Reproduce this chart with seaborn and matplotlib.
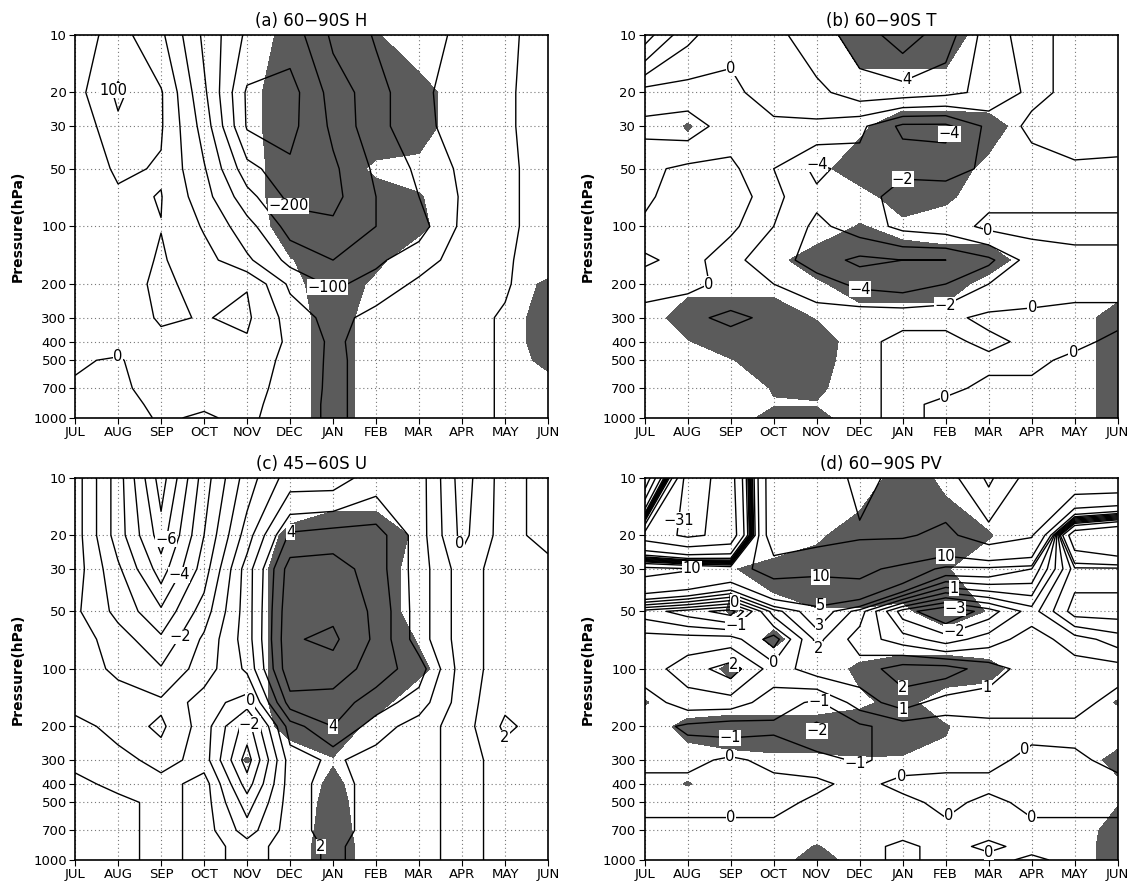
import numpy as np
import matplotlib
matplotlib.use("Agg")
import matplotlib.pyplot as plt
import seaborn as sns

sns.set_theme(style="white")
plt.rcParams["font.family"] = ["DejaVu Sans"]
plt.rcParams["contour.negative_linestyle"] = "solid"
for key in ["text.color", "axes.labelcolor", "xtick.color", "ytick.color"]:
    plt.rcParams[key] = "black"

months = ["JUL", "AUG", "SEP", "OCT", "NOV", "DEC", "JAN", "FEB", "MAR", "APR", "MAY", "JUN"]
pressure = [10, 20, 30, 50, 70, 100, 150, 200, 300, 400, 500, 700, 850, 1000]
yticks = [10, 20, 30, 50, 100, 200, 300, 400, 500, 700, 1000]

# (a) 60-90S geopotential height anomaly, rows 10 hPa -> 1000 hPa
h_anom = [
    [25, 70, 10, -110, -210, -230, -140, -95, -70, -40, -10, 20],
    [30, 110, 55, -90, -258, -270, -180, -120, -60, -30, -5, 15],
    [10, 90, 55, -70, -255, -265, -190, -115, -70, -20, -5, 15],
    [5, 60, 45, -45, -180, -240, -210, -140, -90, -40, -5, 10],
    [5, 40, 52, -30, -130, -215, -215, -150, -100, -45, -5, 10],
    [5, 30, 49, -5, -80, -170, -190, -150, -120, -40, -5, 10],
    [10, 25, 55, 20, -40, -115, -150, -110, -70, -30, -5, 20],
    [15, 25, 62, 30, 48, -60, -110, -80, -40, -20, -5, 30],
    [15, 25, 55, 48, 58, -20, -70, -30, -20, -15, 5, 40],
    [10, 20, 40, 25, 45, -10, -60, -25, -20, -15, 5, 40],
    [5, -5, 30, 20, 30, -15, -60, -30, -20, -15, 5, 35],
    [-5, -10, 20, 10, 20, -20, -60, -30, -20, -15, 5, 30],
    [-15, -15, 10, 5, 15, -25, -60, -30, -20, -15, 5, 25],
    [-20, -20, 5, -5, 10, -25, -60, -30, -20, -15, 5, 20],
]
h_sig = [
    "000007950000",
    "000029998000",
    "000029998000",
    "000019932000",
    "000019985000",
    "000008996000",
    "000004960000",
    "000002930006",
    "000000900009",
    "000000900009",
    "000000900007",
    "000000900000",
    "000000900000",
    "000000900000",
]
h_levels = [-300, -250, -200, -150, -100, -50, 0, 50, 100]
h_labels = [(1.0, 20), (4.9, 80), (6.0, 195), (1.0, 480)]

# (b) 60-90S temperature anomaly
t_anom = [
    [7, 2.5, 0.5, 1.5, 3, 5, 7, 5, 1, -1, 1, 1],
    [-1, -1, -0.5, 1, 1.5, 3, 3, 2.5, 1.5, -0.5, 0.5, 0.5],
    [-2.5, -3, -1, -0.5, -0.5, -1.5, -4.5, -4.5, -1.5, 0.5, 1.5, 1],
    [-0.5, 0.5, 0.5, -2, -4.5, -3, -2.5, -3, -1.5, -1, -0.5, -0.5],
    [-0.5, 1.5, 1.5, -1.5, -3.5, -3, -1, -0.5, -0.5, -0.5, -0.5, -0.5],
    [0.5, 1.5, 0.5, -2, -4.5, -3, -1.5, -1, 0.5, 0.5, 0.5, 0.5],
    [2.5, 1, -1.5, -3, -5, -6.5, -6, -6, -4.5, -1, -0.5, -0.5],
    [0.5, 0.5, -0.5, -2, -3, -4.5, -5, -4, -2, -1, -0.5, -0.5],
    [-0.5, -1.5, -2.5, -1.5, -1, -0.5, -0.5, -0.5, 0.5, 0.5, 0.5, 0.5],
    [-0.5, -1, -1, -1, -0.5, -0.5, 0.5, 0.5, -0.5, 0.5, 0.5, -0.5],
    [-0.5, -0.5, -1, -1, -1, -0.5, 0.5, 0.5, 0.5, 0.5, -0.5, -0.5],
    [-0.5, -0.5, -1, -1, -1, -0.5, 0.5, 0.5, -0.5, -0.5, -0.5, -0.5],
    [-0.5, -0.5, -0.5, -0.5, -0.5, -0.5, 0.5, -0.5, -0.5, -0.5, -0.5, -0.5],
    [-0.5, -0.5, -0.5, -0.5, -0.5, -0.5, 0.5, -0.5, -0.5, -0.5, -0.5, -0.5],
]
t_sig = [
    "000009990000",
    "000000000000",
    "050003998000",
    "000029992000",
    "000001960000",
    "000005200000",
    "000299999000",
    "022239991000",
    "099940000009",
    "049990000009",
    "004980000009",
    "000560000009",
    "000440000009",
    "001770000009",
]
t_levels = [-8, -6, -4, -2, 0, 2, 4, 6, 8]
t_labels = [(2.0, 15), (6.0, 15), (7.1, 33), (4.0, 45), (6.0, 55), (8.0, 100),
            (2.0, 200), (5.0, 230), (7.0, 300), (9.0, 250), (10.0, 470), (7.0, 800)]

# (c) 45-60S zonal wind anomaly
u_anom = [
    [-0.5, -3.5, -7.5, -3.5, -0.5, 1.5, 1.5, 2.5, 2.5, -0.5, 1.5, 2.5],
    [-0.5, -3.5, -6.5, -3, 0.5, 4.2, 4.5, 4.5, 2.5, -0.3, 1.5, 2.5],
    [-0.5, -2.8, -5.5, -2.5, 1.5, 5.5, 5.5, 4.5, 2.5, 0.5, 1.5, 1.5],
    [-0.8, -2.3, -3.8, -1.5, 1.5, 5.8, 5.8, 4.8, 2.5, 0.5, 1.5, 1.5],
    [-0.5, -1.5, -2.8, -0.8, 1.5, 5.9, 6.2, 4.8, 2.5, 0.5, 1.5, 1.5],
    [-0.5, -1.2, -1.9, -0.5, 1.2, 5.8, 5.6, 4.5, 3.5, 0.5, 1.5, 1.5],
    [-0.5, -0.5, -0.8, 0.5, -0.5, 4.5, 4.5, 3.5, 2.5, 0.5, 1.8, 1.5],
    [0.5, -0.5, -1.2, 0.5, -2.5, 2.5, 4, 2.5, 1.5, 0.5, 2.2, 1.5],
    [0.5, 0.5, -0.5, 0.5, -3.5, 1.5, 2.2, 1.5, 1.5, 0.5, 1.5, 1.5],
    [-0.5, 0.5, 0.5, 1.5, -2.5, 1.5, 2.5, 1.5, 1.5, 0.5, 1.5, 1.5],
    [-0.5, -0.5, 0.5, 1.5, -1.5, 1.5, 2.5, 1.5, 1.5, 0.5, 1.5, 1.5],
    [-0.5, -0.5, 0.5, 1.5, -0.5, 1.5, 2.5, 1.5, 1.5, 0.5, 1.5, 1.5],
    [-0.5, -0.5, 0.5, 1.5, 0.5, 1.5, 2.2, 1.5, 1.5, 0.5, 1.5, 1.5],
    [-0.5, -0.5, 0.5, 1.5, 0.5, 1.5, 2.2, 1.5, 1.5, 0.5, 1.5, 1.5],
]
u_sig = [
    "000000000000",
    "000006993000",
    "000009991000",
    "000009991000",
    "000009994000",
    "000009996000",
    "000009970000",
    "000007920000",
    "000050400000",
    "000000600000",
    "000000700000",
    "000000800000",
    "000000900000",
    "000000900000",
]
u_levels = [-7, -6, -5, -4, -3, -2, -1, 0, 1, 2, 3, 4, 5, 6]
u_labels = [(2.12, 21), (2.5, 33), (2.3, 65), (5.0, 18), (9.0, 22), (4.0, 150),
            (4.0, 200), (6.0, 200), (6.0, 850), (10.0, 230)]

# (d) 60-90S potential vorticity anomaly
pv_anom = [
    [40, -38, -25, 30, 25, 18, 22, 25, 42, 25, 30, 30],
    [-25, -33, -28, 30, 24, 21, 21, 18, 25, 21, -15, -20],
    [12, 10.5, 8, 12, 11, 12, 8, 4, 4, 3, -2.5, -2.5],
    [-1.5, -2.5, -3.5, 1.5, 4, 1.5, -2.5, -4, -2.5, -0.5, -3.5, -3.5],
    [0.5, 0.5, 0.5, -1.5, 2.3, 0.5, -0.5, -1.5, -0.5, 0.5, -0.5, -1.5],
    [0.5, 1.5, 2.5, 0.5, 1.5, 1.5, 2.5, 2.5, 1.5, 0.5, 0.5, 0.5],
    [-0.5, 0.5, 0.5, -0.5, -1.2, 0.5, 1.5, 0.5, 0.5, 0.5, 0.5, -0.5],
    [-0.5, -1.2, -1.5, -1.2, -2.2, -1.2, -0.5, -0.5, -0.3, -0.3, -0.3, -0.3],
    [-0.3, -0.3, 0.2, -0.3, -0.5, -1.2, -0.5, -0.3, -0.3, 0.3, 0.2, -0.3],
    [0.3, 0.3, 0.3, 0.3, 0.2, -0.3, 0.3, 0.3, 0.3, 0.3, 0.2, 0.3],
    [0.3, 0.3, 0.3, 0.3, -0.2, -0.3, -0.3, 0.3, -0.3, 0.3, 0.3, 0.3],
    [-0.3, -0.3, -0.3, -0.3, -0.3, -0.3, -0.3, -0.3, -0.3, -0.3, -0.3, -0.3],
    [-0.3, -0.3, -0.3, -0.3, -0.3, -0.3, 0.2, -0.3, 0.2, -0.3, -0.3, -0.3],
    [-0.3, -0.3, -0.3, -0.3, -0.3, -0.3, 0.2, -0.3, -0.3, 0.2, -0.3, -0.3],
]
pv_sig = [
    "000000830000",
    "000039995000",
    "004799950000",
    "005244394000",
    "000600000000",
    "006006997000",
    "500003700005",
    "079999750000",
    "012334430007",
    "050000000003",
    "000000000004",
    "000000000008",
    "000050000009",
    "000090000009",
]
pv_levels = [-40, -31, -20, -10, -5, -3, -2, -1, 0, 1, 2, 3, 5, 10, 20, 30, 40]
pv_labels = [(1.1, 17), (1.1, 30), (2.1, 45), (2.1, 58), (4.1, 32), (4.1, 47),
             (4.1, 60), (4.1, 80), (7.0, 22), (7.2, 38), (7.2, 50), (7.2, 65),
             (2.0, 100), (3.0, 100), (6.0, 125), (6.0, 165), (8.0, 140),
             (4.0, 160), (2.0, 210), (4.0, 210), (5.0, 280), (2.0, 300),
             (6.0, 380), (9.0, 300), (7.0, 550), (2.0, 600), (9.0, 650), (8.0, 900)]

panels = [
    ("(a) 60\u221290S H", h_anom, h_sig, h_levels, h_labels, [0.066, 0.532, 0.416, 0.429]),
    ("(b) 60\u221290S T", t_anom, t_sig, t_levels, t_labels, [0.567, 0.532, 0.416, 0.429]),
    ("(c) 45\u221260S U", u_anom, u_sig, u_levels, u_labels, [0.066, 0.037, 0.416, 0.428]),
    ("(d) 60\u221290S PV", pv_anom, pv_sig, pv_levels, pv_labels, [0.567, 0.037, 0.416, 0.428]),
]


def fmt_level(v):
    return f"{v:g}".replace("-", "\u2212")


fig = plt.figure(figsize=(11.37, 8.93), dpi=100)
x = np.arange(len(months))

for title, vals, sig, levs, labs, rect in panels:
    ax = fig.add_axes(rect)
    z = np.array(vals, dtype=float)
    s = np.array([[int(c) for c in row] for row in sig], dtype=float)
    ax.set_yscale("log")
    ax.contourf(x, pressure, s, levels=[4.5, 10], colors=["#5b5b5b"], zorder=1)
    cs = ax.contour(x, pressure, z, levels=levs, colors="black", linewidths=1.0, zorder=2)
    texts = ax.clabel(cs, fmt=fmt_level, fontsize=10.5, inline=False, manual=labs)
    for t in texts:
        t.set_rotation(0)
        t.set_zorder(4)
        t.set_bbox(dict(facecolor="white", edgecolor="none", pad=0.2))
    ax.set_xlim(0, 11)
    ax.set_ylim(1000, 10)
    ax.set_xticks(x, labels=months)
    ax.set_yticks(yticks, labels=[str(v) for v in yticks])
    ax.minorticks_off()
    ax.set_axisbelow(True)
    ax.grid(True, linestyle=(0, (1, 2.5)), color="#777777", linewidth=0.8)
    ax.tick_params(axis="both", labelsize=9.5, bottom=True, left=True,
                   length=4, width=0.8, color="black", labelcolor="black", pad=2)
    for sp in ax.spines.values():
        sp.set_color("black")
        sp.set_linewidth(1.2)
    ax.set_ylabel("Pressure(hPa)", fontsize=10, fontweight="bold", labelpad=6)
    ax.set_title(title, fontsize=12, pad=6)

fig.savefig("out.png", dpi=100)
